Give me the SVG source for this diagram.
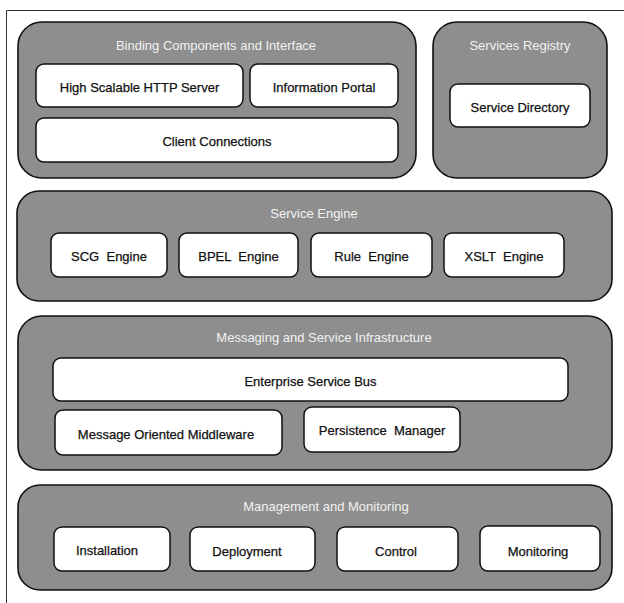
<svg xmlns="http://www.w3.org/2000/svg" width="624" height="603" viewBox="0 0 624 603">
<style>
.panel{fill:#8e8e8e;stroke:#111;stroke-width:1.6}
.box{fill:#fff;stroke:#111;stroke-width:1.5}
.pt{font-family:"Liberation Sans",Arial,sans-serif;font-size:13px;fill:#f2f2f2;text-anchor:middle;white-space:pre}
.bt{font-family:"Liberation Sans",Arial,sans-serif;font-size:13px;fill:#111;stroke:#111;stroke-width:0.25;text-anchor:middle;white-space:pre}
.frame{fill:none;stroke:#333;stroke-width:1}
</style>
<rect width="624" height="603" fill="#fff"/>
<path class="frame" d="M6.5 603 V10.5 H624"/>
<g id="binding">
<rect class="panel" x="18" y="22" width="398" height="156" rx="24"/>
<text class="pt" x="216" y="50">Binding Components and Interface</text>
</g>
<g id="http-server">
<rect class="box" x="36" y="64" width="207" height="43" rx="8"/>
<text class="bt" x="139.5" y="92">High Scalable HTTP Server</text>
</g>
<g id="info-portal">
<rect class="box" x="250" y="64" width="148" height="43" rx="8"/>
<text class="bt" x="324" y="92">Information Portal</text>
</g>
<g id="client-connections">
<rect class="box" x="36" y="118" width="362" height="44" rx="8"/>
<text class="bt" x="217" y="146">Client Connections</text>
</g>
<g id="services-registry">
<rect class="panel" x="433" y="22" width="174" height="156" rx="24"/>
<text class="pt" x="520" y="50">Services Registry</text>
</g>
<g id="service-directory">
<rect class="box" x="450" y="84" width="140" height="43" rx="8"/>
<text class="bt" x="520" y="112">Service Directory</text>
</g>
<g id="service-engine">
<rect class="panel" x="17" y="191" width="595" height="110" rx="22"/>
<text class="pt" x="314" y="218">Service Engine</text>
</g>
<g id="scg-engine">
<rect class="box" x="51" y="233" width="116" height="44" rx="8"/>
<text class="bt" x="109" y="261">SCG  Engine</text>
</g>
<g id="bpel-engine">
<rect class="box" x="179" y="233" width="119" height="44" rx="8"/>
<text class="bt" x="238.5" y="261">BPEL  Engine</text>
</g>
<g id="rule-engine">
<rect class="box" x="311" y="233" width="121" height="44" rx="8"/>
<text class="bt" x="371.5" y="261">Rule  Engine</text>
</g>
<g id="xslt-engine">
<rect class="box" x="444" y="233" width="120" height="44" rx="8"/>
<text class="bt" x="504" y="261">XSLT  Engine</text>
</g>
<g id="messaging">
<rect class="panel" x="18" y="316" width="594" height="154" rx="24"/>
<text class="pt" x="324" y="342">Messaging and Service Infrastructure</text>
</g>
<g id="esb">
<rect class="box" x="53" y="358" width="515" height="43" rx="8"/>
<text class="bt" x="310.5" y="386">Enterprise Service Bus</text>
</g>
<g id="mom">
<rect class="box" x="55" y="410" width="227" height="45" rx="8"/>
<text class="bt" x="166" y="439">Message Oriented Middleware</text>
</g>
<g id="persistence">
<rect class="box" x="304" y="407" width="156" height="45" rx="8"/>
<text class="bt" x="382" y="435">Persistence  Manager</text>
</g>
<g id="management">
<rect class="panel" x="18" y="485" width="594" height="105" rx="22"/>
<text class="pt" x="326" y="511">Management and Monitoring</text>
</g>
<g id="installation">
<rect class="box" x="54" y="527" width="116" height="44" rx="8"/>
<text class="bt" x="107" y="555">Installation</text>
</g>
<g id="deployment">
<rect class="box" x="190" y="527" width="125" height="44" rx="8"/>
<text class="bt" x="247" y="556">Deployment</text>
</g>
<g id="control">
<rect class="box" x="337" y="527" width="121" height="44" rx="8"/>
<text class="bt" x="396" y="556">Control</text>
</g>
<g id="monitoring">
<rect class="box" x="480" y="526" width="120" height="45" rx="8"/>
<text class="bt" x="538" y="556">Monitoring</text>
</g>
</svg>
